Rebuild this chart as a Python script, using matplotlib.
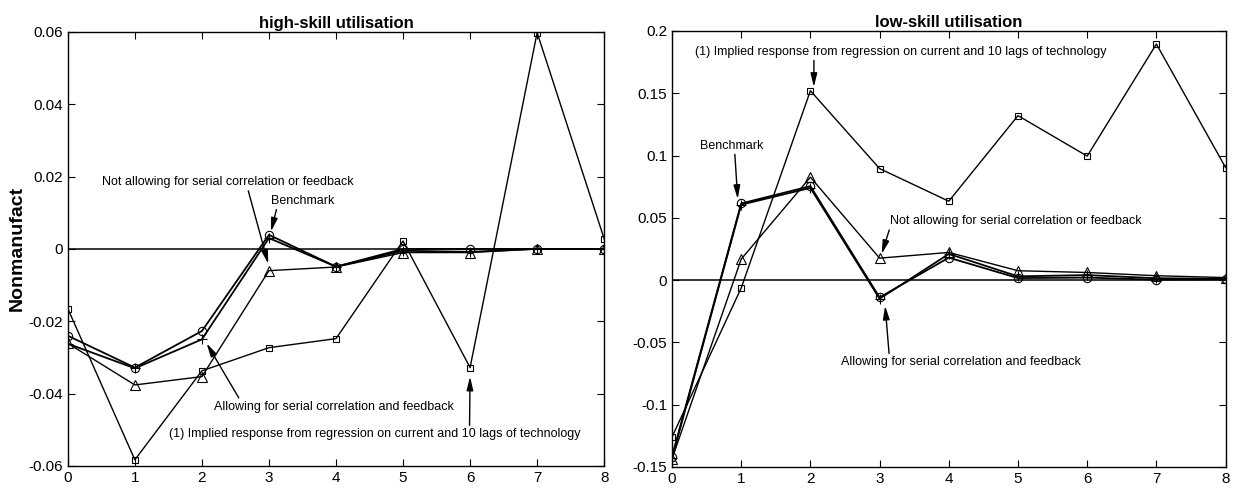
import matplotlib
matplotlib.use('Agg')
from matplotlib import pyplot as plt
from matplotlib.ticker import FuncFormatter, MultipleLocator

plt.rcParams['font.family'] = ['Liberation Sans', 'DejaVu Sans']

lags = [0, 1, 2, 3, 4, 5, 6, 7, 8]

# high-skill utilisation responses
high_benchmark = [-0.0240, -0.0328, -0.0227, 0.0039, -0.0049, 0.0000, 0.0000, 0.0000, 0.0000]
high_allowing = [-0.0262, -0.0330, -0.0250, 0.0030, -0.0049, -0.0005, -0.0008, 0.0000, 0.0000]
high_not_allowing = [-0.0261, -0.0376, -0.0353, -0.0060, -0.0050, -0.0010, -0.0010, 0.0000, 0.0000]
high_implied = [-0.0165, -0.0583, -0.0337, -0.0273, -0.0248, 0.0022, -0.0328, 0.0598, 0.0028]

# low-skill utilisation responses
low_benchmark = [-0.1417, 0.0615, 0.0754, -0.0139, 0.0180, 0.0016, 0.0020, 0.0003, 0.0005]
low_allowing = [-0.1430, 0.0605, 0.0740, -0.0150, 0.0210, 0.0030, 0.0040, 0.0015, 0.0010]
low_not_allowing = [-0.1436, 0.0168, 0.0826, 0.0176, 0.0222, 0.0075, 0.0061, 0.0035, 0.0020]
low_implied = [-0.1260, -0.0064, 0.1520, 0.0895, 0.0633, 0.1320, 0.0995, 0.1895, 0.0903]

fig = plt.figure(figsize=(12.33, 4.91), dpi=100)
ax1 = fig.add_axes([0.055, 0.051, 0.435, 0.884])
ax2 = fig.add_axes([0.545, 0.049, 0.449, 0.888])

arrow = dict(arrowstyle='-|>,head_length=0.9,head_width=0.22', color='k', lw=1.0,
             shrinkA=0, shrinkB=0)
note_size = 9


def draw_panel(ax, bench, allow, notallow, implied):
    ax.axhline(0, color='k', lw=1.1, zorder=1)
    ax.plot(lags, implied, color='k', lw=1.0, marker='s', ms=4, mfc='none', mew=0.8)
    ax.plot(lags, notallow, color='k', lw=1.0, marker='^', ms=7, mfc='none', mew=0.8)
    ax.plot(lags, allow, color='k', lw=1.3, marker='+', ms=7, mew=0.8)
    ax.plot(lags, bench, color='k', lw=1.3, marker='o', ms=6, mfc='none', mew=0.8)
    ax.set_xlim(0, 8)
    ax.xaxis.set_major_locator(MultipleLocator(1))
    ax.yaxis.set_major_formatter(FuncFormatter(lambda v, p: '%g' % round(v, 4)))
    ax.tick_params(direction='in', top=True, right=True, labelsize=11, length=5, width=0.8)
    for s in ax.spines.values():
        s.set_linewidth(1.0)


draw_panel(ax1, high_benchmark, high_allowing, high_not_allowing, high_implied)
ax1.set_ylim(-0.06, 0.06)
ax1.yaxis.set_major_locator(MultipleLocator(0.02))
ax1.set_title('high-skill utilisation', fontsize=12, fontweight='bold', pad=3)
ax1.set_ylabel('Nonmanufact', fontsize=14, fontweight='bold', labelpad=2)

ax1.annotate('Not allowing for serial correlation or feedback', xy=(2.99, -0.0041),
             xytext=(2.38, 0.0185), ha='center', va='center', fontsize=note_size,
             arrowprops=dict(arrow, relpos=(0.58, 0.0)))
ax1.annotate('Benchmark', xy=(3.03, 0.0048), xytext=(3.5, 0.0133), ha='center',
             va='center', fontsize=note_size, arrowprops=dict(arrow, relpos=(0.1, 0.0)))
ax1.annotate('Allowing for serial correlation and feedback', xy=(2.07, -0.0261),
             xytext=(3.97, -0.0436), ha='center', va='center', fontsize=note_size,
             arrowprops=dict(arrow, relpos=(0.11, 1.0)))
ax1.annotate('(1) Implied response from regression on current and 10 lags of technology',
             xy=(6.0, -0.0353), xytext=(4.58, -0.0512), ha='center', va='center',
             fontsize=note_size, arrowprops=dict(arrow, relpos=(0.73, 1.0)))

draw_panel(ax2, low_benchmark, low_allowing, low_not_allowing, low_implied)
ax2.set_ylim(-0.15, 0.2)
ax2.yaxis.set_major_locator(MultipleLocator(0.05))
ax2.set_title('low-skill utilisation', fontsize=12, fontweight='bold', pad=3)

ax2.annotate('(1) Implied response from regression on current and 10 lags of technology',
             xy=(2.05, 0.155), xytext=(3.3, 0.1834), ha='center', va='center',
             fontsize=note_size, arrowprops=dict(arrow, relpos=(0.29, 0.0)))
ax2.annotate('Benchmark', xy=(0.95, 0.0651), xytext=(0.86, 0.108), ha='center',
             va='center', fontsize=note_size, arrowprops=dict(arrow, relpos=(0.55, 0.0)))
ax2.annotate('Not allowing for serial correlation or feedback', xy=(3.03, 0.021),
             xytext=(4.97, 0.0472), ha='center', va='center', fontsize=note_size,
             arrowprops=dict(arrow, relpos=(0.0, 0.0)))
ax2.annotate('Allowing for serial correlation and feedback', xy=(3.08, -0.0206),
             xytext=(4.18, -0.066), ha='center', va='center', fontsize=note_size,
             arrowprops=dict(arrow, relpos=(0.2, 1.0)))

fig.savefig('out.png', dpi=100)
